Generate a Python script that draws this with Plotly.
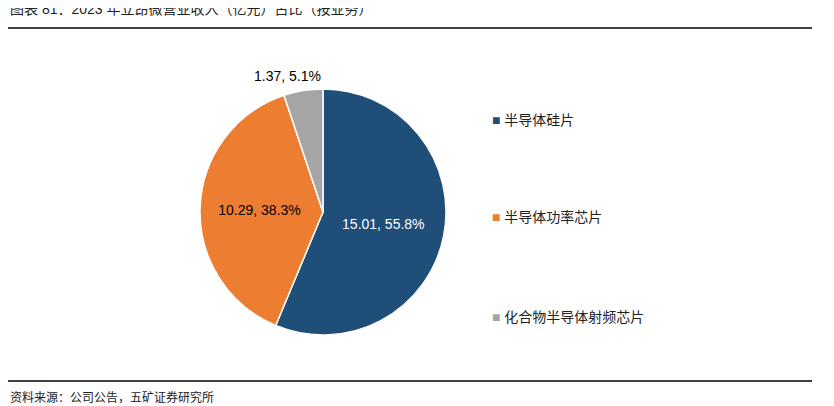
import plotly.graph_objects as go

labels = ['半导体硅片', '半导体功率芯片', '化合物半导体射频芯片']
values = [15.01, 10.29, 1.37]
shares = [55.8, 38.3, 5.1]  # percentages as printed in the source
colors = ['#1F4E79', '#ED7D31', '#A5A5A5']

texts = [f'{v:.2f}, {p:.1f}%' for v, p in zip(values, shares)]

W, H = 834, 406
ox, oy = 8, 8  # page body margin offset
cx, cy, r = 323 - ox, 212 - oy, 123

fig = go.Figure(go.Pie(
    labels=labels, values=values, sort=False, direction='clockwise', rotation=0,
    marker=dict(colors=colors, line=dict(color='white', width=1.5)),
    text=[texts[0], texts[1], ''], textinfo='text', textposition='inside',
    insidetextorientation='horizontal',
    textfont=dict(size=14, color=['white', 'black', 'black']),
    domain=dict(x=[(cx - r) / W, (cx + r) / W], y=[1 - (cy + r) / H, 1 - (cy - r) / H]),
    showlegend=False, hoverinfo='label+value+percent',
))

ann = [
    dict(x=0, y=1 - (9 - oy) / H, text='图表 81：2023 年立昂微营业收入（亿元）占比（按业务）',
         xanchor='left', yanchor='middle', showarrow=False, font=dict(size=14, color='#222')),
    dict(x=0, y=1 - (397 - oy) / H, text='资料来源：公司公告，五矿证券研究所',
         xanchor='left', yanchor='middle', showarrow=False, font=dict(size=12, color='#222')),
    dict(x=(287 - ox) / W, y=1 - (76 - oy) / H, text=texts[2],
         xanchor='center', yanchor='middle', showarrow=False, font=dict(size=14, color='black')),
]
leg_y = [120, 217, 317]
for lab, col, y in zip(labels, colors, leg_y):
    ann.append(dict(x=(490 - ox) / W, y=1 - (y - oy) / H, xanchor='left', yanchor='middle', showarrow=False,
                    text=f'<span style="color:{col}">■</span> {lab}', font=dict(size=14, color='#222')))

fig.update_layout(
    width=W, height=H, margin=dict(l=0, r=0, t=0, b=0),
    paper_bgcolor='white', plot_bgcolor='white',
    font=dict(family='Liberation Sans, Noto Sans CJK SC, sans-serif'),
    annotations=ann,
    shapes=[
        dict(type='line', xref='paper', yref='paper', x0=0, x1=(812 - ox) / W,
             y0=1 - (28 - oy) / H, y1=1 - (28 - oy) / H, line=dict(color='black', width=1.5)),
        dict(type='line', xref='paper', yref='paper', x0=0, x1=(812 - ox) / W,
             y0=1 - (381 - oy) / H, y1=1 - (381 - oy) / H, line=dict(color='black', width=1.5)),
    ],
)

fig.write_html('out.html')
